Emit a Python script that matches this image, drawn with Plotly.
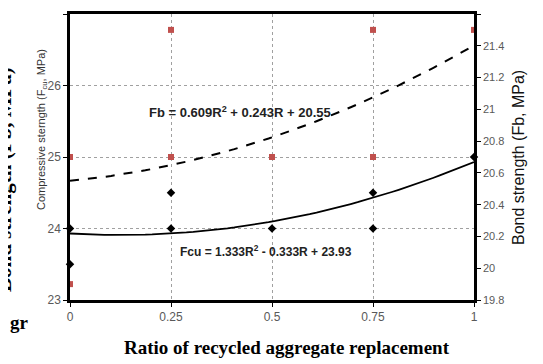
import numpy as np
import plotly.graph_objects as go

# Data
fcu_x = [0, 0, 0.25, 0.25, 0.5, 0.75, 0.75, 1]
fcu_y = [24, 23.5, 24.5, 24, 24, 24.5, 24, 25]
fb_x = [0, 0, 0.25, 0.25, 0.5, 0.75, 0.75, 1]
fb_y = [20.7, 19.9, 21.5, 20.7, 20.7, 21.5, 20.7, 21.5]
fcu_coef = [1.333, -0.333, 23.93]   # R^2, R, const
fb_coef = [0.609, 0.243, 20.55]
x_ticks = [0, 0.25, 0.5, 0.75, 1]
x_ticklabels = ["0", "0.25", "0.5", "0.75", "1"]
y2_ticks = [19.8, 20, 20.2, 20.4, 20.6, 20.8, 21, 21.2, 21.4, 21.6]
y2_ticklabels = ["19.8", "20", "20.2", "20.4", "20.6", "20.8", "21", "21.2", "21.4", "21.6"]

r = np.linspace(0, 1, 60)
fcu_fit = np.polyval(fcu_coef, r)
fb_fit = np.polyval(fb_coef, r)

# page layout (page pixel coords; the browser body adds an 8px margin)
OFF = 8
W, H = 543 - OFF, 364 - OFF
PL, PR, PT, PB = 70, 474, 14, 300   # plot area on page


def px(xp):
    return (xp - PL) / (PR - PL)


def py(yp):
    return (PB - yp) / (PB - PT)


fig = go.Figure()
fig.add_trace(go.Scatter(x=r, y=fb_fit, mode="lines", yaxis="y2",
                         line=dict(color="black", width=2, dash="dash"), showlegend=False))
fig.add_trace(go.Scatter(x=r, y=fcu_fit, mode="lines",
                         line=dict(color="black", width=1.8), showlegend=False))
fig.add_trace(go.Scatter(x=fcu_x, y=fcu_y, mode="markers", cliponaxis=False,
                         marker=dict(symbol="diamond", size=6.5, color="black"), showlegend=False))
fig.add_trace(go.Scatter(x=fb_x, y=fb_y, mode="markers", yaxis="y2", cliponaxis=False,
                         marker=dict(symbol="square", size=6, color="#C0504D"), showlegend=False))

tickfont = dict(family="Arial, Liberation Sans, sans-serif", size=12, color="#595959")
fig.update_layout(
    width=W, height=H,
    margin=dict(l=PL - OFF, r=W - (PR - OFF), t=PT - OFF, b=H - (PB - OFF), autoexpand=False),
    paper_bgcolor="white", plot_bgcolor="white",
    xaxis=dict(range=[0, 1], tickvals=x_ticks, ticktext=x_ticklabels,
               showline=True, linewidth=2.5, linecolor="black", mirror=True,
               showgrid=True, gridcolor="#a0a0a0", griddash="dot", gridwidth=1,
               ticks="outside", ticklen=4, tickcolor="black", tickfont=tickfont,
               zeroline=False, automargin=False),
    yaxis=dict(range=[23, 27], dtick=1, showline=True, linewidth=2.5, linecolor="black",
               showgrid=True, gridcolor="#a0a0a0", griddash="dot", gridwidth=1,
               ticks="outside", ticklen=4, tickcolor="black", tickfont=tickfont,
               zeroline=False, automargin=False),
    yaxis2=dict(range=[19.8, 21.6], tickvals=y2_ticks, ticktext=y2_ticklabels,
                overlaying="y", side="right",
                showline=True, linewidth=2.5, linecolor="black", showgrid=False,
                ticks="outside", ticklen=4, tickcolor="black",
                tickfont=dict(family="Arial, Liberation Sans, sans-serif", size=11, color="#595959"),
                zeroline=False, automargin=False),
)


def ann(text, xp, yp, size, family, color, angle=0):
    fig.add_annotation(text=text, xref="paper", yref="paper", x=px(xp), y=py(yp),
                       xanchor="center", yanchor="middle", textangle=angle, showarrow=False,
                       font=dict(family=family, size=size, color=color))


SANS = "Arial, Liberation Sans, sans-serif"
SERIF = "Liberation Serif, Times New Roman, serif"

ann("<b>Fb = 0.609R<sup>2</sup> + 0.243R + 20.55</b>", 240, 112, 13, SANS, "#222")
ann("<b>Fcu = 1.333R<sup>2</sup> - 0.333R + 23.93</b>", 266, 251, 12, SANS, "#222")
ann("Compressive sterngth (F<sub>cu</sub>, MPa)", 42, 130, 11, SANS, "#333", -90)
ann("Bond strength (Fb, MPa)", 518, 158, 16, SANS, "#111", -90)
ann("<b>Ratio of recycled aggregate replacement</b>", 287, 347, 19, SERIF, "black")
# cropped fragments of the surrounding page
ann("<b>gr</b>", 19, 322, 19, SERIF, "black")
ann("<b>Bond strength (Fb, MPa)</b>", 4, 180, 21, SERIF, "black", -90)

fig.write_html("out.html")
